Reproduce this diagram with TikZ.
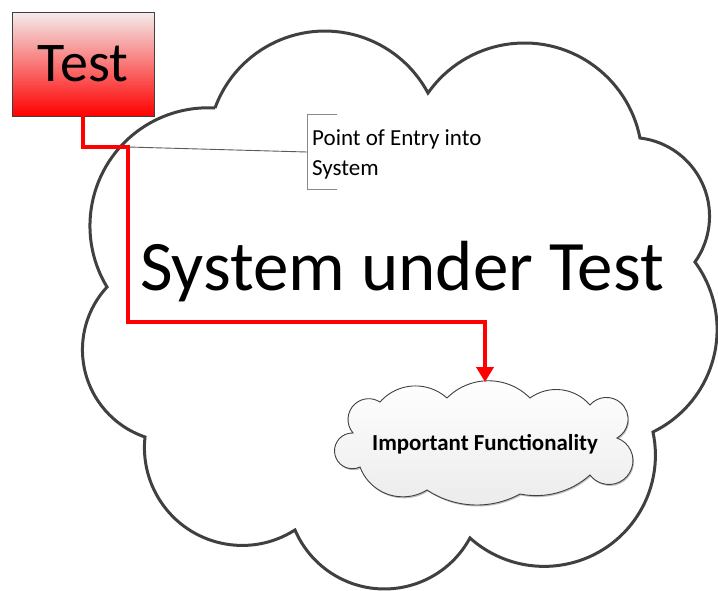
\documentclass[tikz,border=0pt]{standalone}
\usepackage{fontspec}
\setmainfont{Carlito}
\usetikzlibrary{arrows.meta,shadows,calc}
\definecolor{outline}{HTML}{404040}
\definecolor{boxtop}{RGB}{244,236,236}
\definecolor{cloudfill}{HTML}{EBEBEB}
\definecolor{calloutgray}{HTML}{5A5A5A}
\definecolor{bracketgray}{HTML}{8A8A8A}

% lobe={start}{through}{end}: a circular arc from the current point (start)
% through a middle point to the end point, running clockwise
\tikzset{lobe/.style n args={3}{insert path={
  let \p1=#1, \p2=#2, \p3=#3,
      \n1={((\x2)-(\x1))/100}, \n2={((\y2)-(\y1))/100},
      \n3={((\x3)-(\x1))/100}, \n4={((\y3)-(\y1))/100},
      \n5={2*((\n1)*(\n4)-(\n2)*(\n3))},
      \n6={(\n1)*(\n1)+(\n2)*(\n2)}, \n7={(\n3)*(\n3)+(\n4)*(\n4)},
      \n8={((\n4)*(\n6)-(\n2)*(\n7))/(\n5)},
      \n9={((\n1)*(\n7)-(\n3)*(\n6))/(\n5)},
      \n{sa}={atan2(-(\n9),-(\n8))},
      \n{eb}={atan2((\n4)-(\n9),(\n3)-(\n8))},
      \n{ea}={(\n{eb})>(\n{sa}) ? (\n{eb})-360 : (\n{eb})},
      \n{rr}={100*veclen((\n8),(\n9))}
  in arc[start angle=\n{sa}, end angle=\n{ea}, radius=\n{rr}]}}}

\begin{document}
\begin{tikzpicture}[x=1pt,y=-1pt,
  bigcloud/.style={draw=outline, line width=3pt, line join=miter, fill=white},
  smallcloud/.style={draw=outline, line width=0.9pt, top color=white, bottom color=cloudfill,
    drop shadow={opacity=0.25, shadow xshift=1pt, shadow yshift=-1.5pt, fill=black}},
  testbox/.style={draw=outline, line width=0.8pt, top color=boxtop, bottom color=red,
    minimum width=142pt, minimum height=104pt, inner sep=0pt,
    font=\fontsize{56}{64}\selectfont},
  conn/.style={draw=red, line width=4pt, line join=miter,
    -{Triangle[length=15pt,width=17pt]}},
  callout/.style={draw=calloutgray, line width=0.9pt},
  bracket/.style={draw=bracketgray, line width=0.9pt},
]
\useasboundingbox (0,0) rectangle (718,590);

% outer cloud: the system
\draw[bigcloud] (215,108)
  [lobe={(215,108)}{(310,32)}{(428,93)}]
  [lobe={(428,93)}{(523,43)}{(640,138)}]
  [lobe={(640,138)}{(709,207)}{(695,262)}]
  [lobe={(695,262)}{(717,335)}{(653,432)}]
  [lobe={(653,432)}{(607,547)}{(470,538)}]
  [lobe={(470,538)}{(385,589)}{(295,530)}]
  [lobe={(295,530)}{(210,540)}{(145,437)}]
  [lobe={(145,437)}{(83,360)}{(107,287)}]
  [lobe={(107,287)}{(110,160)}{(215,108)}]
  -- cycle;

% inner cloud: the important functionality
\draw[smallcloud] (447,398)
  [lobe={(447,398)}{(483,381)}{(530,398)}]
  [lobe={(530,398)}{(563,390)}{(590,405)}]
  [lobe={(590,405)}{(628,417)}{(617,438)}]
  [lobe={(617,438)}{(633,461)}{(590,475)}]
  [lobe={(590,475)}{(560,492)}{(520,494)}]
  [lobe={(520,494)}{(475,505)}{(427,490)}]
  [lobe={(427,490)}{(390,495)}{(360,467)}]
  [lobe={(360,467)}{(335,455)}{(353,433)}]
  [lobe={(353,433)}{(349,413)}{(380,402)}]
  [lobe={(380,402)}{(413,386)}{(447,398)}]
  -- cycle;

% labels
\node[font=\fontsize{71}{84}\selectfont, anchor=base, inner sep=0pt] (sut) at (402,290) {System under Test};
\node[font=\bfseries\fontsize{22.9}{27}\selectfont, anchor=base, inner sep=0pt] (ifc) at (485,450) {Important Functionality};
\node[font=\fontsize{23}{30}\selectfont, align=left, anchor=base west, inner sep=0pt] (poe) at (312,175) {Point of Entry into\\System};

% callout to the entry point
\coordinate (entry) at (128,147);
\coordinate (brk) at (307,152);
\coordinate (brktop) at (307,114);
\coordinate (brkbot) at (307,189);
\draw[callout] (entry) -- (brk);
\draw[bracket] ([xshift=30pt]brktop) -- (brktop) -- (brkbot) -- ([xshift=30pt]brkbot);

% test box and its path into the system
\node[testbox] (test) at (83,64) {Test};
\coordinate (turn) at (128,322);
\coordinate (ifctop) at (485,382);
\draw[conn] (test.south) |- (entry) -- (turn) -| (ifctop);
\end{tikzpicture}
\end{document}
